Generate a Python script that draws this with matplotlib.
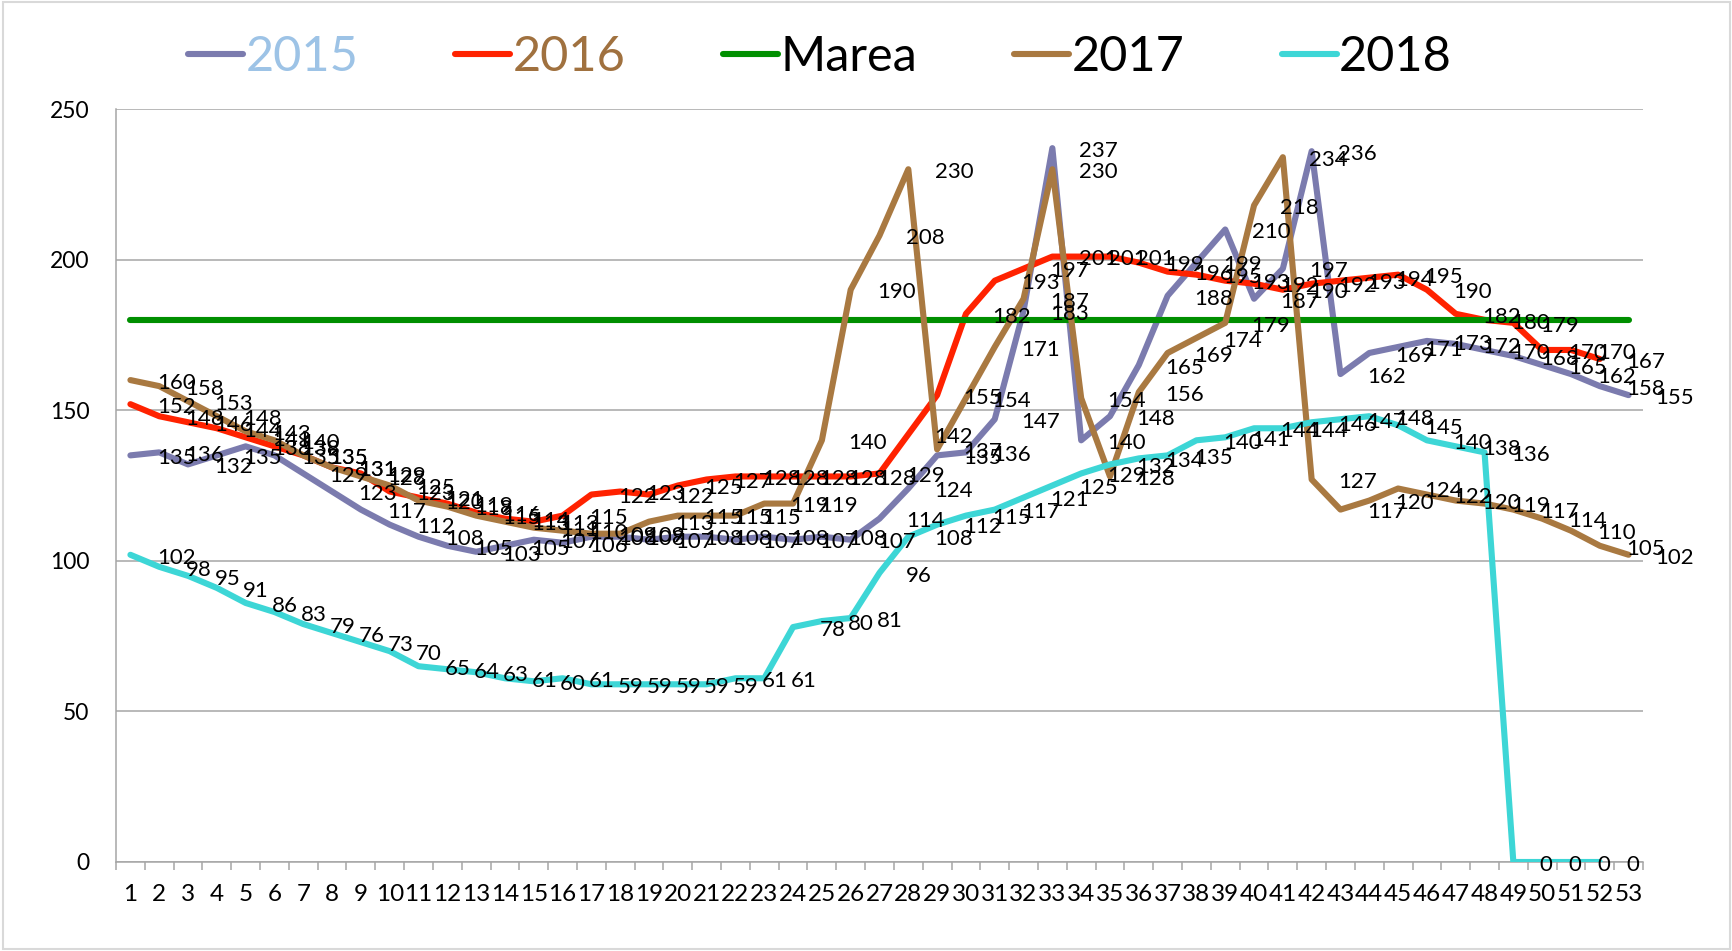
import matplotlib
matplotlib.use("Agg")
import matplotlib.pyplot as plt
from matplotlib.patches import Rectangle

plt.rcParams['font.family'] = ['Lato', 'DejaVu Sans']

# Date: saptamani 1..53
weeks = list(range(1, 54))

v2015 = [135, 136, 132, 135, 138, 135, 129, 123, 117, 112,
         108, 105, 103, 105, 107, 106, 108, 108, 107, 108,
         108, 107, 108, 107, 108, 107, 114, 124, 135, 136,
         147, 183, 237, 140, 148, 165, 188, 199, 210, 187,
         197, 236, 162, 169, 171, 173, 172, 170, 168, 165,
         162, 158, 155]

# 2016 are doar 52 de valori
v2016 = [152, 148, 146, 144, 141, 138, 135, 131, 129, 123,
         121, 119, 116, 114, 113, 115, 122, 123, 122, 125,
         127, 128, 128, 128, 128, 128, 129, 142, 155, 182,
         193, 197, 201, 201, 201, 199, 196, 195, 193, 192,
         190, 192, 193, 194, 195, 190, 182, 180, 179, 170,
         170, 167]

marea = [180] * 53

v2017 = [160, 158, 153, 148, 143, 140, 135, 131, 128, 125,
         120, 118, 115, 113, 111, 110, 109, 109, 113, 115,
         115, 115, 119, 119, 140, 190, 208, 230, 137, 154,
         171, 187, 230, 154, 128, 156, 169, 174, 179, 218,
         234, 127, 117, 120, 124, 122, 120, 119, 117, 114,
         110, 105, 102]

# 2018: 52 de valori
v2018 = [102, 98, 95, 91, 86, 83, 79, 76, 73, 70,
         65, 64, 63, 61, 60, 61, 59, 59, 59, 59,
         59, 61, 61, 78, 80, 81, 96, 108, 112, 115,
         117, 121, 125, 129, 132, 134, 135, 140, 141, 144,
         144, 146, 147, 148, 145, 140, 138, 136, 0, 0,
         0, 0]

names = ['2015', '2016', 'Marea', '2017', '2018']
serii = [v2015, v2016, marea, v2017, v2018]
culori = ['#7B7BAE', '#FF2200', '#008F00', '#A97941', '#3DD6D6']
culori_legenda = ['#9DC3E6', '#A0713F', 'black', 'black', 'black']
cu_etichete = [True, True, False, True, True]

W, H = 1733, 951
fig = plt.figure(figsize=(W / 100, H / 100), dpi=100)
ax = fig.add_axes([116 / W, 1 - 862 / H, (1643 - 116) / W, (862 - 109) / H])

linii = []
for nume, vals, c in zip(names, serii, culori):
    x = weeks[:len(vals)]
    ln, = ax.plot(x, vals, color=c, lw=4.4, solid_joinstyle='round',
                  solid_capstyle='round', label=nume, zorder=3)
    linii.append(ln)

# etichete de date (pozitia "dreapta" din Excel)
for vals, ok in zip(serii, cu_etichete):
    if not ok:
        continue
    for w, v in zip(weeks, vals):
        ax.annotate(str(v), (w, v), xytext=(19, -2), textcoords='offset points',
                    ha='left', va='center', fontsize=16, color='black', zorder=5)

ax.set_xlim(0.5, 53.5)
ax.set_ylim(0, 250)
ax.set_yticks([0, 50, 100, 150, 200, 250])
ax.set_xticks(weeks)
ax.set_xticks([w + 0.5 for w in range(0, 54)], minor=True)
ax.grid(axis='y', color='#A6A6A6', lw=1.1, zorder=0)
ax.tick_params(axis='y', length=0, pad=19, labelsize=16.5)
ax.tick_params(axis='x', which='major', length=0, pad=16, labelsize=17.5)
ax.tick_params(axis='x', which='minor', length=6, color='#A6A6A6', width=1.1)
for s in ['top', 'right']:
    ax.spines[s].set_visible(False)
for s in ['left', 'bottom']:
    ax.spines[s].set_color('#A6A6A6')
    ax.spines[s].set_linewidth(1.1)

leg = fig.legend(linii, names, loc='center left', bbox_to_anchor=(188 / W, 1 - 57 / H),
                 ncol=5, frameon=False, fontsize=35, handlelength=1.13,
                 handletextpad=0.05, columnspacing=2.0, borderpad=0, borderaxespad=0)
for t, c in zip(leg.get_texts(), culori_legenda):
    t.set_color(c)

fig.patches.append(Rectangle((0.002, 0.002), 0.996, 0.996, transform=fig.transFigure,
                             fill=False, edgecolor='#D9D9D9', lw=1.5))

fig.savefig('out.png', dpi=100)
